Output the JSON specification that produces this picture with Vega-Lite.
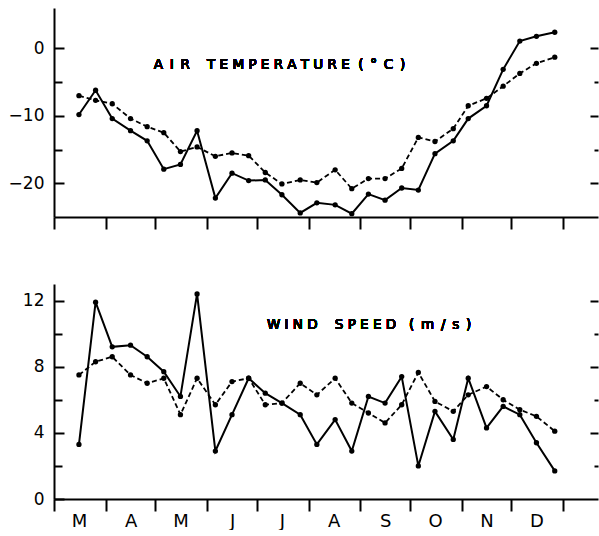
{
  "$schema": "https://vega.github.io/schema/vega-lite/v6.json",
  "background": "white",
  "padding": {"left": 8, "top": 8, "right": 0, "bottom": 0},
  "spacing": 54,
  "datasets": {
    "d": [
      {"date": "2023-03-16", "temp_a": -9.8, "temp_b": -7.0, "wind_a": 3.3, "wind_b": 7.5},
      {"date": "2023-03-26", "temp_a": -6.2, "temp_b": -7.7, "wind_a": 11.9, "wind_b": 8.3},
      {"date": "2023-04-05", "temp_a": -10.4, "temp_b": -8.2, "wind_a": 9.2, "wind_b": 8.6},
      {"date": "2023-04-16", "temp_a": -12.2, "temp_b": -10.4, "wind_a": 9.3, "wind_b": 7.5},
      {"date": "2023-04-26", "temp_a": -13.7, "temp_b": -11.6, "wind_a": 8.6, "wind_b": 7.0},
      {"date": "2023-05-06", "temp_a": -17.9, "temp_b": -12.5, "wind_a": 7.7, "wind_b": 7.3},
      {"date": "2023-05-16", "temp_a": -17.2, "temp_b": -15.3, "wind_a": 6.2, "wind_b": 5.1},
      {"date": "2023-05-26", "temp_a": -12.2, "temp_b": -14.6, "wind_a": 12.4, "wind_b": 7.3},
      {"date": "2023-06-06", "temp_a": -22.2, "temp_b": -16.0, "wind_a": 2.9, "wind_b": 5.7},
      {"date": "2023-06-16", "temp_a": -18.5, "temp_b": -15.5, "wind_a": 5.1, "wind_b": 7.1},
      {"date": "2023-06-26", "temp_a": -19.6, "temp_b": -15.9, "wind_a": 7.3, "wind_b": 7.3},
      {"date": "2023-07-06", "temp_a": -19.5, "temp_b": -18.4, "wind_a": 6.4, "wind_b": 5.7},
      {"date": "2023-07-16", "temp_a": -21.7, "temp_b": -20.1, "wind_a": 5.8, "wind_b": 5.8},
      {"date": "2023-07-27", "temp_a": -24.4, "temp_b": -19.5, "wind_a": 5.1, "wind_b": 7.0},
      {"date": "2023-08-06", "temp_a": -22.9, "temp_b": -19.9, "wind_a": 3.3, "wind_b": 6.3},
      {"date": "2023-08-17", "temp_a": -23.2, "temp_b": -18.0, "wind_a": 4.8, "wind_b": 7.3},
      {"date": "2023-08-27", "temp_a": -24.5, "temp_b": -20.8, "wind_a": 2.9, "wind_b": 5.8},
      {"date": "2023-09-06", "temp_a": -21.6, "temp_b": -19.3, "wind_a": 6.2, "wind_b": 5.2},
      {"date": "2023-09-16", "temp_a": -22.5, "temp_b": -19.3, "wind_a": 5.8, "wind_b": 4.6},
      {"date": "2023-09-26", "temp_a": -20.7, "temp_b": -17.8, "wind_a": 7.4, "wind_b": 5.7},
      {"date": "2023-10-06", "temp_a": -21.0, "temp_b": -13.2, "wind_a": 2.0, "wind_b": 7.65},
      {"date": "2023-10-16", "temp_a": -15.6, "temp_b": -13.8, "wind_a": 5.3, "wind_b": 5.9},
      {"date": "2023-10-27", "temp_a": -13.7, "temp_b": -11.9, "wind_a": 3.6, "wind_b": 5.3},
      {"date": "2023-11-05", "temp_a": -10.4, "temp_b": -8.5, "wind_a": 7.3, "wind_b": 6.3},
      {"date": "2023-11-16", "temp_a": -8.5, "temp_b": -7.4, "wind_a": 4.3, "wind_b": 6.8},
      {"date": "2023-11-26", "temp_a": -3.1, "temp_b": -5.6, "wind_a": 5.6, "wind_b": 6.0},
      {"date": "2023-12-06", "temp_a": 1.1, "temp_b": -3.7, "wind_a": 5.1, "wind_b": 5.4},
      {"date": "2023-12-16", "temp_a": 1.8, "temp_b": -2.2, "wind_a": 3.4, "wind_b": 5.0},
      {"date": "2023-12-27", "temp_a": 2.4, "temp_b": -1.3, "wind_a": 1.7, "wind_b": 4.1}
    ]
  },
  "vconcat": [
    {
      "width": 544,
      "height": 209,
      "data": {"name": "d"},
      "resolve": {"axis": {"y": "independent"}},
      "layer": [
        {
          "mark": {"type": "line", "color": "black", "strokeWidth": 2},
          "encoding": {
            "x": {"field": "date", "type": "temporal",
              "scale": {"type": "utc", "domain": [{"year": 2023, "month": 3, "date": 1, "utc": true}, {"year": 2024, "month": 1, "date": 22, "utc": true}]},
              "axis": {"orient": "bottom", "title": null, "labels": false, "tickSize": 12, "tickWidth": 2, "domainWidth": 2, "domainColor": "black", "tickColor": "black", "grid": false,
                "values": [{"year": 2023, "month": 3, "date": 1, "utc": true}, {"year": 2023, "month": 4, "date": 1, "utc": true}, {"year": 2023, "month": 5, "date": 1, "utc": true}, {"year": 2023, "month": 6, "date": 1, "utc": true}, {"year": 2023, "month": 7, "date": 1, "utc": true}, {"year": 2023, "month": 8, "date": 1, "utc": true}, {"year": 2023, "month": 9, "date": 1, "utc": true}, {"year": 2023, "month": 10, "date": 1, "utc": true}, {"year": 2023, "month": 11, "date": 1, "utc": true}, {"year": 2023, "month": 12, "date": 1, "utc": true}, {"year": 2024, "month": 1, "date": 1, "utc": true}]}},
            "y": {"field": "temp_a", "type": "quantitative", "scale": {"domain": [-25, 6], "nice": false, "zero": false},
              "axis": {"orient": "left", "title": null, "values": [0, -10, -20], "tickSize": -10, "tickWidth": 2, "domainWidth": 2, "domainColor": "black", "tickColor": "black", "labelPadding": 20, "labelFont": "DejaVu Sans", "labelFontSize": 17, "labelColor": "black", "grid": false}}
          }
        },
        {
          "mark": {"type": "point", "filled": true, "size": 28, "color": "black", "opacity": 1},
          "encoding": {
            "x": {"field": "date", "type": "temporal", "scale": {"type": "utc"}},
            "y": {"field": "temp_a", "type": "quantitative",
              "axis": {"orient": "left", "title": null, "values": [-5, -15], "tickSize": -8, "tickWidth": 2, "tickColor": "black", "domain": false, "labels": false, "grid": false}}
          }
        },
        {
          "mark": {"type": "line", "color": "black", "strokeWidth": 1.8, "strokeDash": [5, 3]},
          "encoding": {
            "x": {"field": "date", "type": "temporal", "scale": {"type": "utc"}},
            "y": {"field": "temp_b", "type": "quantitative",
              "axis": {"orient": "right", "title": null, "values": [0, -10, -20], "tickSize": -8, "tickWidth": 2, "tickColor": "black", "domain": false, "labels": false, "grid": false}}
          }
        },
        {
          "mark": {"type": "point", "filled": true, "size": 28, "color": "black", "opacity": 1},
          "encoding": {
            "x": {"field": "date", "type": "temporal", "scale": {"type": "utc"}},
            "y": {"field": "temp_b", "type": "quantitative",
              "axis": {"orient": "right", "title": null, "values": [-5, -15], "tickSize": -4, "tickWidth": 2, "tickColor": "black", "domain": false, "labels": false, "grid": false}}
          }
        },
        {
          "mark": {"type": "text", "align": "left", "baseline": "middle", "font": "DejaVu Sans", "fontSize": 13.5, "fontWeight": "normal", "color": "black"},
          "encoding": {
            "x": {"datum": {"year": 2023, "month": 4, "date": 30, "utc": true}, "type": "temporal", "scale": {"type": "utc"}},
            "y": {"datum": -2.4, "type": "quantitative", "axis": null},
            "text": {"value": "A\u2002I\u2002R\u00a0\u00a0\u00a0\u00a0T\u00a0E\u00a0M\u00a0P\u00a0E\u00a0R\u00a0A\u00a0T\u00a0U\u00a0R\u00a0E\u00a0\u00a0(\u2002°\u2002C\u2002)"}
          }
        }
      ]
    },
    {
      "width": 544,
      "height": 215,
      "data": {"name": "d"},
      "resolve": {"axis": {"y": "independent"}},
      "layer": [
        {
          "mark": {"type": "line", "color": "black", "strokeWidth": 2},
          "encoding": {
            "x": {"field": "date", "type": "temporal",
              "scale": {"type": "utc", "domain": [{"year": 2023, "month": 3, "date": 1, "utc": true}, {"year": 2024, "month": 1, "date": 22, "utc": true}]},
              "axis": {"orient": "bottom", "title": null, "tickSize": 12, "tickWidth": 2, "domainWidth": 2, "domainColor": "black", "tickColor": "black", "grid": false,
                "labelExpr": "['','F','M','A','M','J','J','A','S','O','N','D'][utcmonth(datum.value)]",
                "labelOffset": 25, "labelPadding": 1, "labelFlush": false, "labelOverlap": false, "labelBound": false,
                "labelFont": "DejaVu Sans", "labelFontSize": 18, "labelColor": "black",
                "values": [{"year": 2023, "month": 3, "date": 1, "utc": true}, {"year": 2023, "month": 4, "date": 1, "utc": true}, {"year": 2023, "month": 5, "date": 1, "utc": true}, {"year": 2023, "month": 6, "date": 1, "utc": true}, {"year": 2023, "month": 7, "date": 1, "utc": true}, {"year": 2023, "month": 8, "date": 1, "utc": true}, {"year": 2023, "month": 9, "date": 1, "utc": true}, {"year": 2023, "month": 10, "date": 1, "utc": true}, {"year": 2023, "month": 11, "date": 1, "utc": true}, {"year": 2023, "month": 12, "date": 1, "utc": true}, {"year": 2024, "month": 1, "date": 1, "utc": true}]}},
            "y": {"field": "wind_a", "type": "quantitative", "scale": {"domain": [0, 13], "nice": false, "zero": false},
              "axis": {"orient": "left", "title": null, "values": [0, 4, 8, 12], "tickSize": -10, "tickWidth": 2, "domainWidth": 2, "domainColor": "black", "tickColor": "black", "labelPadding": 20, "labelFont": "DejaVu Sans", "labelFontSize": 17, "labelColor": "black", "grid": false}}
          }
        },
        {
          "mark": {"type": "point", "filled": true, "size": 28, "color": "black", "opacity": 1},
          "encoding": {
            "x": {"field": "date", "type": "temporal", "scale": {"type": "utc"}},
            "y": {"field": "wind_a", "type": "quantitative",
              "axis": {"orient": "left", "title": null, "values": [2, 6, 10], "tickSize": -8, "tickWidth": 2, "tickColor": "black", "domain": false, "labels": false, "grid": false}}
          }
        },
        {
          "mark": {"type": "line", "color": "black", "strokeWidth": 1.8, "strokeDash": [5, 3]},
          "encoding": {
            "x": {"field": "date", "type": "temporal", "scale": {"type": "utc"}},
            "y": {"field": "wind_b", "type": "quantitative",
              "axis": {"orient": "right", "title": null, "values": [4, 8, 12], "tickSize": -8, "tickWidth": 2, "tickColor": "black", "domain": false, "labels": false, "grid": false}}
          }
        },
        {
          "mark": {"type": "point", "filled": true, "size": 28, "color": "black", "opacity": 1},
          "encoding": {
            "x": {"field": "date", "type": "temporal", "scale": {"type": "utc"}},
            "y": {"field": "wind_b", "type": "quantitative",
              "axis": {"orient": "right", "title": null, "values": [2, 6, 10], "tickSize": -4, "tickWidth": 2, "tickColor": "black", "domain": false, "labels": false, "grid": false}}
          }
        },
        {
          "mark": {"type": "text", "align": "left", "baseline": "middle", "font": "DejaVu Sans", "fontSize": 13.5, "fontWeight": "normal", "color": "black"},
          "encoding": {
            "x": {"datum": {"year": 2023, "month": 7, "date": 7, "utc": true}, "type": "temporal", "scale": {"type": "utc"}},
            "y": {"datum": 10.5, "type": "quantitative", "axis": null},
            "text": {"value": "W\u00a0I\u00a0N\u00a0D\u00a0\u00a0\u00a0\u00a0S\u00a0P\u00a0E\u00a0E\u00a0D\u00a0\u00a0\u00a0(\u2002m\u2002/\u2002s\u2002)"}
          }
        }
      ]
    }
  ],
  "config": {
    "view": {"stroke": null},
    "axis": {"grid": false}
  }
}
